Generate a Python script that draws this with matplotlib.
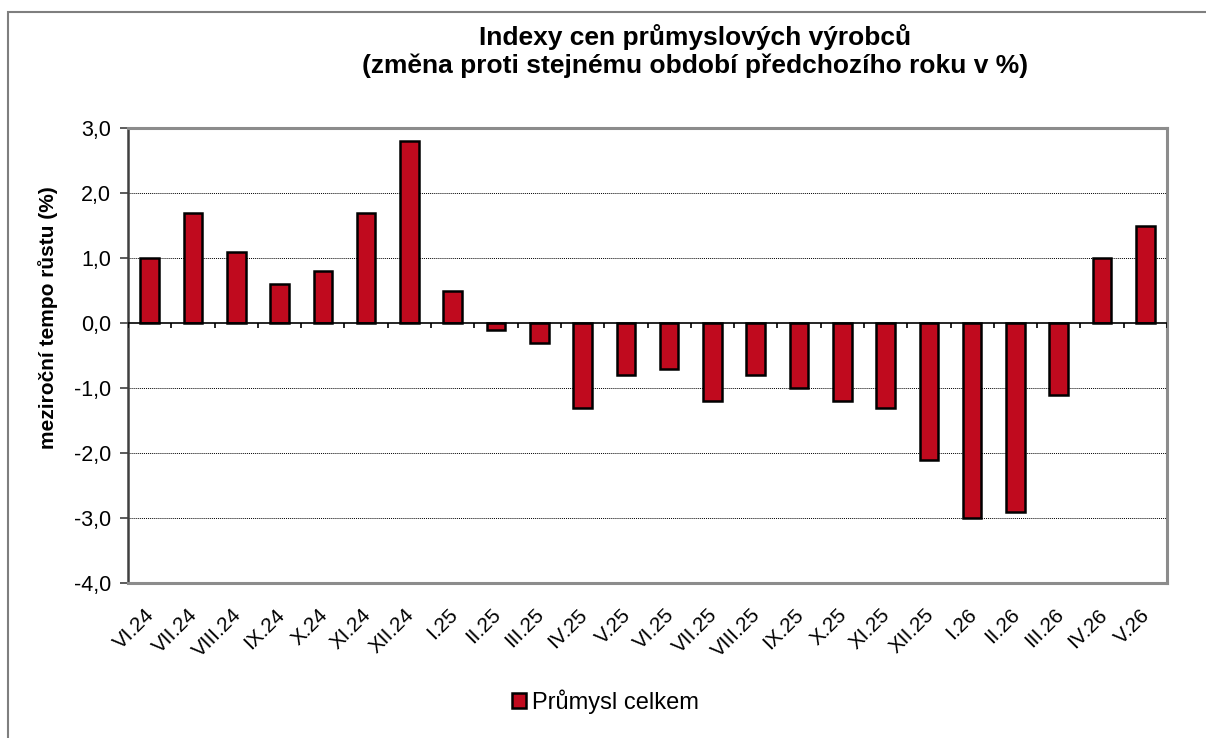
import matplotlib
matplotlib.use("Agg")
import matplotlib.pyplot as plt
from matplotlib.patches import Rectangle
from matplotlib.transforms import ScaledTranslation
import numpy as np

plt.rcParams['font.family'] = ['Liberation Sans', 'DejaVu Sans']

categories = ["VI.24", "VII.24", "VIII.24", "IX.24", "X.24", "XI.24", "XII.24",
              "I.25", "II.25", "III.25", "IV.25", "V.25", "VI.25", "VII.25",
              "VIII.25", "IX.25", "X.25", "XI.25", "XII.25", "I.26", "II.26",
              "III.26", "IV.26", "V.26"]
values = [1.0, 1.7, 1.1, 0.6, 0.8, 1.7, 2.8, 0.5, -0.1, -0.3, -1.3, -0.8, -0.7,
          -1.2, -0.8, -1.0, -1.2, -1.3, -2.1, -3.0, -2.9, -1.1, 1.0, 1.5]
yticks = [-4, -3, -2, -1, 0, 1, 2, 3]
series_name = "Průmysl celkem"
title = "Indexy cen průmyslových výrobců\n(změna proti stejnému období předchozího roku v %)"
ylabel = "meziroční tempo růstu (%)"

W, H = 1206, 738
fig = plt.figure(figsize=(W / 100, H / 100), dpi=100)
fig.patch.set_facecolor('white')

# outer chart frame
fig.patches.append(Rectangle((8 / W, -0.2), 1.2, 1 - 12 / H + 0.2, transform=fig.transFigure,
                             fill=False, edgecolor='#7f7f7f', linewidth=1.5))

ax = fig.add_axes([128 / W, 1 - 583 / H, (1167 - 128) / W, (583 - 128) / H])
x = np.arange(len(categories))
bars = ax.bar(x, values, width=0.43, color='#C00A1E', edgecolor='black', linewidth=1.8,
              label=series_name, zorder=3)

ax.set_xlim(-0.5, len(categories) - 0.5)
ax.set_ylim(-4, 3)
ax.set_yticks(yticks)
ax.set_yticklabels([f"{v:.1f}".replace('.', ',') for v in yticks], fontsize=15.5)
for v in yticks:
    if v not in (-4, 3, 0):
        ax.axhline(v, color='black', linestyle=(0, (1, 1)), linewidth=0.7, zorder=1)
ax.axhline(0, color='black', linewidth=1.2, zorder=4)
ax.vlines(np.arange(len(categories) + 1) - 0.5, -0.08, 0, color='black', linewidth=1.2, zorder=4)

ax.set_xticks(x)
ax.set_xticklabels(categories, rotation=45, ha='right', rotation_mode='anchor', fontsize=15)
ax.tick_params(axis='x', length=0, pad=16)
offset = ScaledTranslation(-5 / 100, 0, fig.dpi_scale_trans)
for lbl in ax.get_xticklabels():
    lbl.set_transform(lbl.get_transform() + offset)
ax.tick_params(axis='y', length=6, width=1.2, color='#404040', direction='out', pad=6)

for side in ['top', 'right', 'bottom']:
    ax.spines[side].set_color('#8c8c8c')
    ax.spines[side].set_linewidth(2.2)
ax.spines['left'].set_color('#404040')
ax.spines['left'].set_linewidth(1.8)

fig.text(48 / W, 1 - 318 / H, ylabel, rotation=90, ha='center', va='center',
         fontsize=15, fontweight='bold')

fig.text(695 / W, 1 - 51 / H, title, ha='center', va='center', fontsize=19,
         fontweight='bold', linespacing=1.2)

fig.legend(handles=[bars], labels=[series_name], loc='center', bbox_to_anchor=(605 / W, 1 - 702 / H),
           frameon=False, fontsize=17, handlelength=0.6, handleheight=0.6, handletextpad=0.25)

fig.savefig("out.png", dpi=100)
